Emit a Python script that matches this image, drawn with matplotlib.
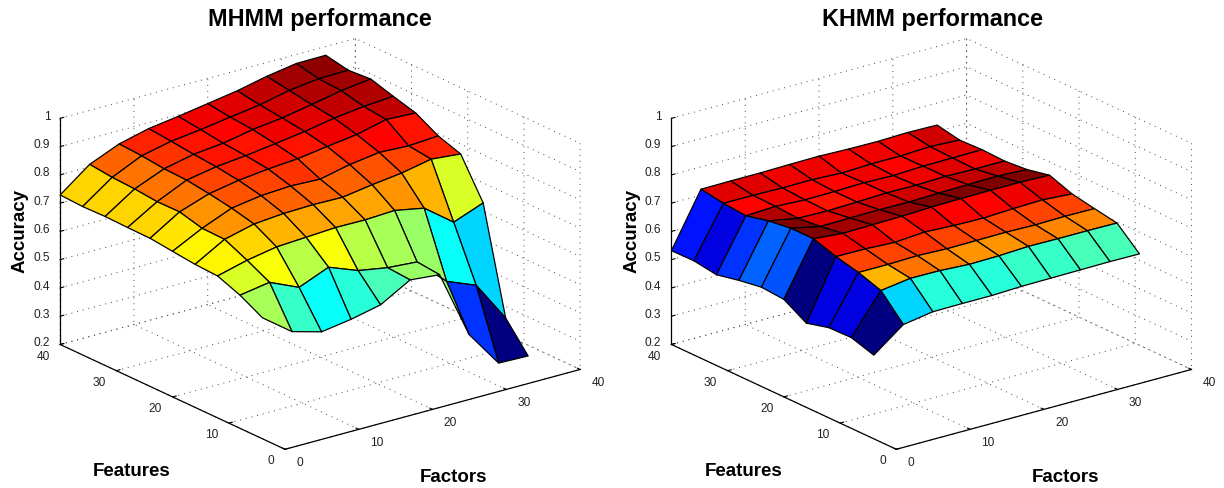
import numpy as np
import matplotlib
matplotlib.use('Agg')
import matplotlib.pyplot as plt
from matplotlib.colors import Normalize, LinearSegmentedColormap
from matplotlib.transforms import Affine2D
from mpl_toolkits.mplot3d import proj3d

plt.rcParams['font.family'] = ['Liberation Sans', 'DejaVu Sans']

factors = [0, 4, 8, 12, 16, 20, 24, 28, 32, 36]
features = [4, 8, 12, 16, 20, 24, 28, 32, 36, 40]
tick_xy = [0, 10, 20, 30, 40]
tick_z = [0.2, 0.3, 0.4, 0.5, 0.6, 0.7, 0.8, 0.9, 1.0]
tick_z_labels = ['0.2', '0.3', '0.4', '0.5', '0.6', '0.7', '0.8', '0.9', '1']

# rows: features ascending, columns: factors ascending
mhmm_accuracy = [
    [.628, .551, .522, .538, .561, .621, .611, .371, .242, .239],
    [.671, .688, .642, .685, .645, .627, .619, .522, .480, .336],
    [.702, .729, .748, .754, .760, .759, .764, .744, .666, .706],
    [.706, .766, .792, .801, .804, .802, .818, .831, .852, .842],
    [.715, .768, .811, .827, .833, .829, .852, .867, .862, .869],
    [.724, .789, .825, .844, .856, .864, .879, .893, .918, .913],
    [.725, .788, .836, .855, .866, .880, .895, .914, .927, .935],
    [.727, .796, .839, .862, .873, .893, .906, .925, .946, .959],
    [.725, .800, .848, .871, .884, .900, .915, .938, .951, .953],
    [.729, .809, .853, .879, .894, .911, .928, .951, .968, .969],
]
khmm_accuracy = [
    [.496, .576, .593, .594, .594, .598, .599, .600, .601, .600],
    [.521, .659, .674, .673, .667, .669, .674, .673, .673, .672],
    [.519, .686, .686, .689, .685, .686, .687, .685, .687, .686],
    [.498, .705, .704, .699, .707, .702, .700, .705, .708, .701],
    [.545, .731, .722, .724, .726, .730, .732, .733, .733, .730],
    [.551, .731, .709, .711, .712, .711, .714, .716, .718, .713],
    [.538, .720, .701, .699, .702, .706, .705, .708, .706, .706],
    [.521, .701, .706, .701, .702, .705, .702, .707, .708, .709],
    [.533, .708, .708, .706, .707, .702, .706, .706, .711, .706],
    [.532, .721, .722, .722, .724, .725, .722, .721, .724, .722],
]

W, H = 1224, 488
fig = plt.figure(figsize=(W / 100, H / 100), dpi=100, facecolor='white')
jet = LinearSegmentedColormap.from_list(
    'matlab_jet',
    [(0, (0, 0, 0.5)), (0.125, (0, 0, 1)), (0.375, (0, 1, 1)), (0.625, (1, 1, 0)),
     (0.875, (1, 0, 0)), (1, (0.5, 0, 0))], N=64)


def to_px(ax, x, y, z):
    xs, ys, _ = proj3d.proj_transform(x, y, z, ax.get_proj())
    return ax.transData.transform((xs, ys))


def shift(ax, artist, dx, dy):
    # Axis3D resets the transform of its texts while drawing
    artist.get_transform = lambda: ax.transData + Affine2D().translate(dx, dy)


def panel(title, values, dx, title_x):
    ax = fig.add_axes([0.05, 0.05, 0.4, 0.4 * W / H], projection='3d', proj_type='ortho')
    ax.set_facecolor('none')
    ax.view_init(elev=20.8, azim=-127.3)
    ax.set_box_aspect((1, 1, 0.652))
    ax.set_xlim(0, 40, view_margin=0)
    ax.set_ylim(0, 40, view_margin=0)
    ax.set_zlim(0.2, 1, view_margin=0)

    Z = np.array(values)
    X, Y = np.meshgrid(factors, features)
    norm = Normalize(Z.min(), Z.max())
    ax.plot_surface(X, Y, Z, rstride=1, cstride=1, facecolors=jet(norm(Z)),
                    edgecolor='black', linewidth=0.9, shade=False, antialiased=True)

    ax.set_xticks(tick_xy)
    ax.set_yticks(tick_xy)
    ax.set_zticks(tick_z)
    ax.set_zticklabels(tick_z_labels)
    ax.tick_params(axis='x', labelsize=8.6, pad=2, labelcolor='#222222')
    ax.tick_params(axis='y', labelsize=8.6, pad=2, labelcolor='#222222')
    ax.tick_params(axis='z', labelsize=8.6, pad=4, labelcolor='#222222')
    for axis in (ax.xaxis, ax.yaxis, ax.zaxis):
        axis.pane.set_facecolor('none')
        axis.pane.set_edgecolor('none')
        axis.line.set_color('black')
        axis.line.set_linewidth(0.9)
        axis._axinfo['grid'].update(color='#444444', linewidth=0.7, linestyle=(0, (1, 5)))
        axis._axinfo['tick'].update(inward_factor=0.0, outward_factor=0.15,
                                    linewidth={True: 0.8, False: 0.8})
    for lab in ax.get_xticklabels():
        lab.set_ha('left')
    for lab in ax.get_yticklabels():
        lab.set_ha('right')
    for lab in ax.get_zticklabels():
        lab.set_ha('right')
    for tick in ax.xaxis.get_major_ticks():
        shift(ax, tick.label1, 0.5, 8)
    for tick in ax.yaxis.get_major_ticks():
        shift(ax, tick.label1, 3.5, 8.5)
    for tick in ax.zaxis.get_major_ticks():
        shift(ax, tick.label1, 19.7, 6)

    # fit the box to its place in the figure
    target_o = np.array([285 + dx, H - 449.3])
    target_r = np.array([580 + dx, H - 369.3])
    target_l = np.array([60 + dx, H - 344.5])
    size = 0.4 * W
    left, bottom = 100.0 + dx, 50.0
    for _ in range(4):
        ax.set_position([left / W, bottom / H, size / W, size / H])
        ax.apply_aspect()
        o = to_px(ax, 0, 0, 0.2)
        r = to_px(ax, 40, 0, 0.2)
        l = to_px(ax, 0, 40, 0.2)
        f = (target_r[0] - target_l[0]) / (r[0] - l[0])
        # scale about the axes centre, then move the origin corner into place
        cx0, cy0 = left + size / 2, bottom + size / 2
        new_size = size * f
        ox = cx0 + (o[0] - cx0) * f
        oy = cy0 + (o[1] - cy0) * f
        left = left - (new_size - size) / 2 + target_o[0] - ox
        bottom = bottom - (new_size - size) / 2 + target_o[1] - oy
        size = new_size
    ax.set_position([left / W, bottom / H, size / W, size / H])

    # Axes3D.set_title scales y by 0.92
    ax.set_title(title, x=title_x / W, y=(1 - 19.5 / H) / 0.92, transform=fig.transFigure,
                 fontsize=16.8, fontweight='bold', va='center', ha='center')

    ax.xaxis.set_rotate_label(False)
    ax.yaxis.set_rotate_label(False)
    ax.zaxis.set_rotate_label(False)
    ax.set_xlabel('Factors', fontsize=13.5, fontweight='bold', rotation=0, labelpad=10)
    ax.set_ylabel('Features', fontsize=13.5, fontweight='bold', rotation=0, labelpad=10)
    ax.set_zlabel('Accuracy', fontsize=13.5, fontweight='bold', rotation=90, labelpad=10)
    shift(ax, ax.xaxis.label, -12, -19)
    shift(ax, ax.yaxis.label, 3, -30)
    shift(ax, ax.zaxis.label, 37, -3)
    return ax


panel('MHMM performance', mhmm_accuracy, 0, 320)
panel('KHMM performance', khmm_accuracy, 611.3, 932)
fig.savefig('out.png', dpi=100)
